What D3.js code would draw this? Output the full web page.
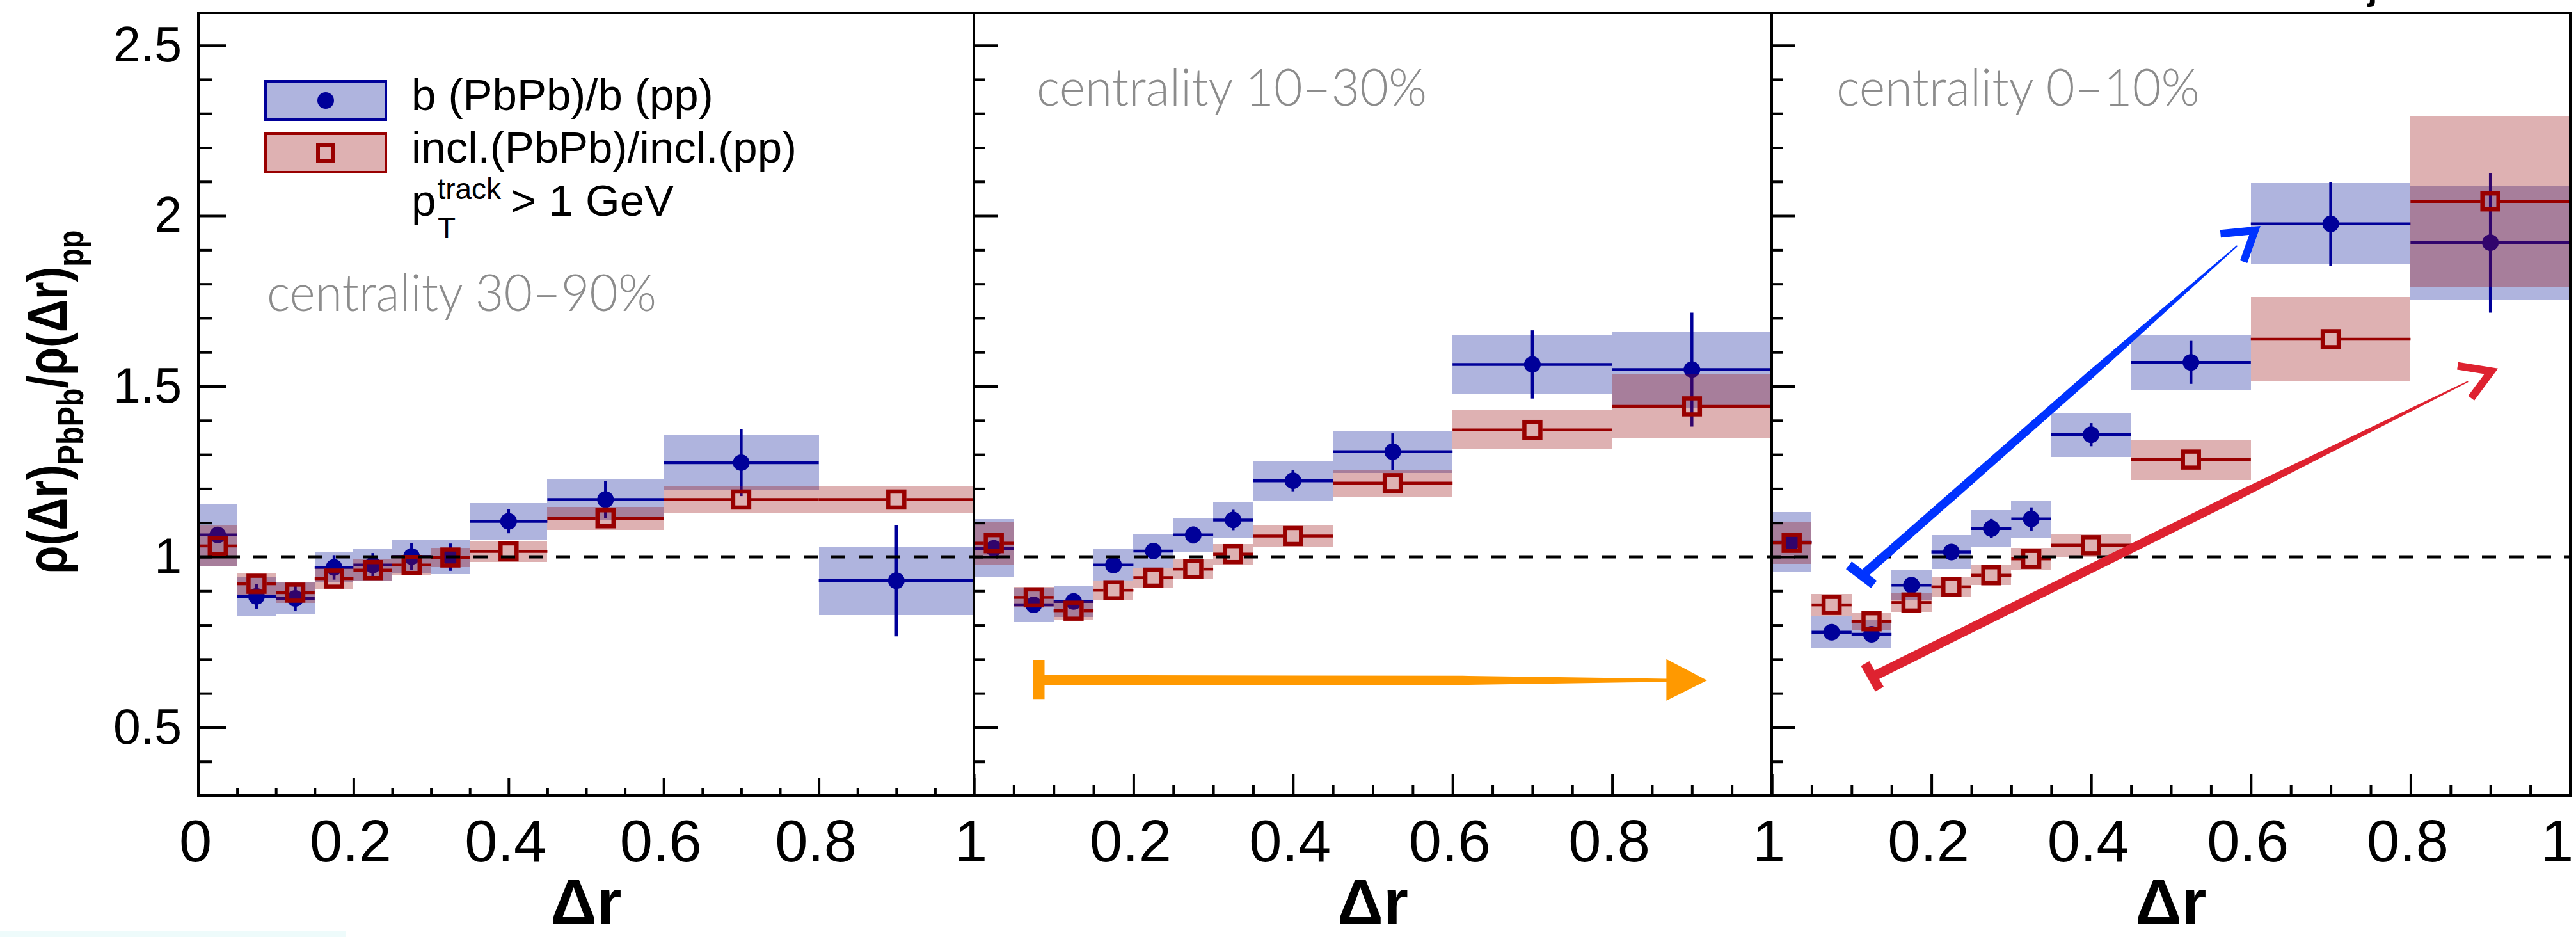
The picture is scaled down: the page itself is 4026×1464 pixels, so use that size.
<!DOCTYPE html>
<meta charset="utf-8">
<head>
<script src="https://d3js.org/d3.v7.min.js"></script>
<style>
  body { margin: 0; background: #ffffff; }
  svg text { font-family: "Liberation Sans", Arial, Helvetica, sans-serif; }
</style>
</head>
<body>
<svg id="chart" width="4026" height="1464"></svg>
<script>

// ---- data -------------------------------------------------------------
// delta-r bins, same for every centrality class
const binEdges = [0, 0.05, 0.1, 0.15, 0.2, 0.25, 0.3, 0.35, 0.45, 0.6, 0.8, 1.0];

const centralityLabels = ["centrality 30\u201390%", "centrality 10\u201330%", "centrality 0\u201310%"];

// b-jets  (PbPb)/(pp): value, stat. error, syst. error (half height of box)
const bVal30_90  = [1.064, 0.884, 0.878, 0.969, 0.976, 1.001, 0.999, 1.104, 1.168, 1.276, 0.930];
const bStat30_90 = [0.020, 0.036, 0.037, 0.036, 0.035, 0.040, 0.040, 0.035, 0.054, 0.098, 0.163];
const bSys30_90  = [0.090, 0.056, 0.046, 0.045, 0.047, 0.049, 0.049, 0.053, 0.060, 0.080, 0.100];

const bVal10_30  = [1.025, 0.859, 0.869, 0.976, 1.017, 1.064, 1.108, 1.223, 1.308, 1.564, 1.549];
const bStat10_30 = [0.015, 0.020, 0.020, 0.020, 0.020, 0.025, 0.030, 0.031, 0.054, 0.100, 0.167];
const bSys10_30  = [0.085, 0.050, 0.045, 0.048, 0.050, 0.050, 0.054, 0.058, 0.062, 0.085, 0.111];

const bVal0_10   = [1.043, 0.779, 0.773, 0.917, 1.014, 1.083, 1.111, 1.358, 1.570, 1.976, 1.921];
const bStat0_10  = [0.015, 0.015, 0.015, 0.015, 0.015, 0.028, 0.034, 0.034, 0.063, 0.122, 0.205];
const bSys0_10   = [0.088, 0.047, 0.042, 0.044, 0.050, 0.053, 0.055, 0.065, 0.080, 0.119, 0.167];

// inclusive jets (PbPb)/(pp)
const iVal30_90  = [1.032, 0.921, 0.895, 0.936, 0.961, 0.976, 0.998, 1.016, 1.113, 1.168, 1.168];
const iStat30_90 = [0.012, 0.012, 0.012, 0.012, 0.012, 0.012, 0.012, 0.012, 0.015, 0.020, 0.020];
const iSys30_90  = [0.060, 0.031, 0.030, 0.030, 0.032, 0.030, 0.028, 0.031, 0.034, 0.039, 0.041];

const iVal10_30  = [1.040, 0.881, 0.842, 0.902, 0.939, 0.964, 1.008, 1.061, 1.216, 1.372, 1.441];
const iStat10_30 = [0.012, 0.012, 0.012, 0.012, 0.012, 0.012, 0.012, 0.012, 0.015, 0.020, 0.020];
const iSys10_30  = [0.064, 0.030, 0.028, 0.029, 0.029, 0.028, 0.030, 0.032, 0.040, 0.057, 0.094];

const iVal0_10   = [1.041, 0.859, 0.811, 0.866, 0.912, 0.946, 0.994, 1.034, 1.285, 1.638, 2.042];
const iStat0_10  = [0.012, 0.012, 0.012, 0.012, 0.012, 0.012, 0.012, 0.012, 0.015, 0.020, 0.020];
const iSys0_10   = [0.062, 0.032, 0.026, 0.028, 0.028, 0.029, 0.032, 0.034, 0.059, 0.124, 0.250];

// axis ticks
const yMajorTicks = [0.5, 1, 1.5, 2, 2.5];
const yTickLabels = ["0.5", "1", "1.5", "2", "2.5"];
const xMajorTicks = [0, 0.2, 0.4, 0.6, 0.8, 1];
const xTickLabels = ["0", "0.2", "0.4", "0.6", "0.8", "1"];

// ---- layout -----------------------------------------------------------
const BLUE = "#000099", RED = "#990000";
const BLUE_BOX = "rgb(5,21,152)", RED_BOX = "rgb(152,11,15)", BOX_ALPHA = 0.32;

const svg = d3.select("#chart");
svg.append("rect").attr("width", 4026).attr("height", 1464).attr("fill", "#fff");

const yTop = 20, yBottom = 1243;
const y = d3.scaleLinear().domain([0.3, 2.595]).range([yBottom, yTop]);

const panels = [
  { x0: 310,  x1: 1522, tickY: [43, 22], tickX: [27, 12], label: centralityLabels[0],
    b: [bVal30_90, bStat30_90, bSys30_90], i: [iVal30_90, iStat30_90, iSys30_90] },
  { x0: 1522, x1: 2769, tickY: [37, 18], tickX: [34, 17], label: centralityLabels[1],
    b: [bVal10_30, bStat10_30, bSys10_30], i: [iVal10_30, iStat10_30, iSys10_30] },
  { x0: 2769, x1: 4017, tickY: [37, 18], tickX: [34, 17], label: centralityLabels[2],
    b: [bVal0_10, bStat0_10, bSys0_10], i: [iVal0_10, iStat0_10, iSys0_10] }
];
panels.forEach(p => p.x = d3.scaleLinear().domain([0, 1]).range([p.x0, p.x1]));

function rowsOf(series) {
  return binEdges.slice(0, -1).map((lo, k) => ({
    lo: lo, hi: binEdges[k + 1], c: (lo + binEdges[k + 1]) / 2,
    v: series[0][k], stat: series[1][k], sys: series[2][k]
  }));
}

const dataLayer = svg.append("g");

function drawBoxes(g, x, rows, color) {
  g.append("g").selectAll("rect").data(rows).join("rect")
    .attr("x", d => x(d.lo)).attr("width", d => x(d.hi) - x(d.lo))
    .attr("y", d => y(d.v + d.sys)).attr("height", d => y(d.v - d.sys) - y(d.v + d.sys))
    .attr("fill", color).attr("fill-opacity", BOX_ALPHA)
    .attr("shape-rendering", "crispEdges");
}

function drawBlue(g, x, rows) {
  drawBoxes(g, x, rows, BLUE_BOX);
  const s = g.append("g").attr("stroke", BLUE).attr("stroke-width", 4.5);
  s.selectAll(".h").data(rows).join("line").attr("class", "h")
    .attr("x1", d => x(d.lo)).attr("x2", d => x(d.hi))
    .attr("y1", d => y(d.v)).attr("y2", d => y(d.v));
  s.selectAll(".v").data(rows).join("line").attr("class", "v")
    .attr("x1", d => x(d.c)).attr("x2", d => x(d.c))
    .attr("y1", d => y(d.v + d.stat)).attr("y2", d => y(d.v - d.stat));
  g.append("g").selectAll("circle").data(rows).join("circle")
    .attr("cx", d => x(d.c)).attr("cy", d => y(d.v)).attr("r", 13).attr("fill", BLUE);
}

function drawRed(g, x, rows) {
  drawBoxes(g, x, rows, RED_BOX);
  const half = 15.5;
  const s = g.append("g").attr("stroke", RED).attr("stroke-width", 4.5);
  rows.forEach(d => {
    const cx = x(d.c), cy = y(d.v);
    s.append("line").attr("x1", x(d.lo)).attr("x2", cx - half).attr("y1", cy).attr("y2", cy);
    s.append("line").attr("x1", cx + half).attr("x2", x(d.hi)).attr("y1", cy).attr("y2", cy);
    if (cy - y(d.v + d.stat) > half) {
      s.append("line").attr("x1", cx).attr("x2", cx).attr("y1", y(d.v + d.stat)).attr("y2", cy - half);
      s.append("line").attr("x1", cx).attr("x2", cx).attr("y1", cy + half).attr("y2", y(d.v - d.stat));
    }
  });
  g.append("g").selectAll("rect").data(rows).join("rect")
    .attr("x", d => x(d.c) - 12.5).attr("y", d => y(d.v) - 12.5)
    .attr("width", 25).attr("height", 25)
    .attr("fill", "none").attr("stroke", RED).attr("stroke-width", 6.5);
}

panels.forEach(p => {
  const g = dataLayer.append("g");
  drawBlue(g, p.x, rowsOf(p.b));
  drawRed(g, p.x, rowsOf(p.i));
});

// dashed line at unity
svg.append("line")
  .attr("x1", panels[0].x0).attr("x2", panels[2].x1)
  .attr("y1", y(1)).attr("y2", y(1))
  .attr("stroke", "#000").attr("stroke-width", 5).attr("stroke-dasharray", "22,21");

// ---- hand drawn arrows (in data coordinates of the panel) --------------
function band(pts, widths) {
  // polygon around polyline pts with given widths at each point
  const left = [], right = [];
  pts.forEach((p, k) => {
    const a = pts[Math.max(0, k - 1)], b = pts[Math.min(pts.length - 1, k + 1)];
    const dx = b[0] - a[0], dy = b[1] - a[1], L = Math.hypot(dx, dy);
    const nx = -dy / L, ny = dx / L, w = widths[k] / 2;
    left.push([p[0] + nx * w, p[1] + ny * w]);
    right.push([p[0] - nx * w, p[1] - ny * w]);
  });
  return left.concat(right.reverse());
}
const arrowLayer = svg.append("g");

function drawArrow(p, a, color) {
  const P = d => [p.x(d[0]), y(d[1])];
  const t = P(a.tail), e = P(a.shaftEnd);
  const mid = [t[0] + (e[0] - t[0]) * 0.6, t[1] + (e[1] - t[1]) * 0.6];
  arrowLayer.append("polygon")
    .attr("points", band([t, mid, e], [a.width, a.width * 0.9, 2]).map(q => q.join(",")).join(" "))
    .attr("fill", color);
  arrowLayer.append("line")
    .attr("x1", P(a.tailBar[0])[0]).attr("y1", P(a.tailBar[0])[1])
    .attr("x2", P(a.tailBar[1])[0]).attr("y2", P(a.tailBar[1])[1])
    .attr("stroke", color).attr("stroke-width", 15);
  arrowLayer.append("path")
    .attr("d", d3.line()([P(a.barbs[0]), P(a.tip), P(a.barbs[1])]))
    .attr("fill", "none").attr("stroke", color).attr("stroke-width", 12)
    .attr("stroke-linejoin", "miter");
}

const blueArrow = { tail: [0.117, 0.953], shaftEnd: [0.583, 1.912], width: 14,
  tailBar: [[0.0966, 0.975], [0.128, 0.919]], tip: [0.605, 1.957], barbs: [[0.562, 1.947], [0.591, 1.865]] };
const redArrow = { tail: [0.128, 0.650], shaftEnd: [0.872, 1.514], width: 15,
  tailBar: [[0.117, 0.687], [0.135, 0.612]], tip: [0.901, 1.544], barbs: [[0.859, 1.560], [0.876, 1.465]] };
drawArrow(panels[2], blueArrow, "#0033ff");
drawArrow(panels[2], redArrow, "#de2230");

// orange double-ended arrow in the middle panel
(function () {
  const p = panels[1], col = "#ff9900";
  const ay = 0.638;
  arrowLayer.append("line")
    .attr("x1", p.x(0.0814)).attr("x2", p.x(0.0814)).attr("y1", y(0.698)).attr("y2", y(0.583))
    .attr("stroke", col).attr("stroke-width", 18);
  const pts = [[p.x(0.082), y(ay)], [p.x(0.62), y(ay)], [p.x(0.87), y(ay)]];
  arrowLayer.append("polygon")
    .attr("points", band(pts, [16, 14, 5]).map(q => q.join(",")).join(" ")).attr("fill", col);
  arrowLayer.append("polygon")
    .attr("points", [[p.x(0.868), y(0.70)], [p.x(0.919), y(ay)], [p.x(0.868), y(0.578)]].map(q => q.join(",")).join(" "))
    .attr("fill", col);
})();

// ---- frames, ticks, labels ---------------------------------------------
const axes = svg.append("g");
const yMinorTicks = d3.range(4, 26).filter(k => k % 5 !== 0).map(k => k / 10);
const xMinorTicks = d3.range(1, 20).filter(k => k % 4 !== 0).map(k => k / 20);

panels.forEach((p, k) => {
  axes.append("g").attr("transform", `translate(${p.x0},0)`)
    .call(d3.axisRight(y).tickValues(yMajorTicks).tickSize(p.tickY[0]).tickFormat(""))
    .call(g => g.select(".domain").remove());
  axes.append("g").attr("transform", `translate(${p.x0},0)`)
    .call(d3.axisRight(y).tickValues(yMinorTicks).tickSize(p.tickY[1]).tickFormat(""))
    .call(g => g.select(".domain").remove());
  axes.append("g").attr("transform", `translate(0,${yBottom})`)
    .call(d3.axisTop(p.x).tickValues(xMajorTicks).tickSize(p.tickX[0]).tickFormat(""))
    .call(g => g.select(".domain").remove());
  axes.append("g").attr("transform", `translate(0,${yBottom})`)
    .call(d3.axisTop(p.x).tickValues(xMinorTicks).tickSize(p.tickX[1]).tickFormat(""))
    .call(g => g.select(".domain").remove());

  // x tick labels (the 0 of panels 2 and 3 is hidden under the 1 of the previous one)
  const from = k === 0 ? 0 : 1;
  const lab = axes.append("g").attr("transform", `translate(-5,${yBottom})`)
    .call(d3.axisBottom(p.x).tickValues(xMajorTicks.slice(from)).tickSize(0).tickPadding(38)
      .tickFormat((d, j) => xTickLabels[j + from]))
    .call(g => g.select(".domain").remove())
    .attr("font-family", "Liberation Sans, Arial, sans-serif").attr("font-size", 92);
  if (k === 2) lab.selectAll(".tick text").filter(d => d === 1).attr("dx", -16);

  axes.append("text")
    .attr("x", (p.x0 + p.x1) / 2).attr("y", 1444)
    .attr("text-anchor", "middle").attr("font-size", 100).attr("font-weight", "bold")
    .text("\u0394r");
});
axes.selectAll(".tick line").attr("stroke", "#000").attr("stroke-width", 4);

axes.append("g").attr("transform", `translate(${panels[0].x0},0)`)
  .call(d3.axisLeft(y).tickValues(yMajorTicks).tickSize(0).tickPadding(26)
    .tickFormat((d, j) => yTickLabels[j]))
  .call(g => g.select(".domain").remove())
  .attr("font-family", "Liberation Sans, Arial, sans-serif").attr("font-size", 77);

panels.forEach(p => {
  axes.append("rect").attr("x", p.x0).attr("y", yTop)
    .attr("width", p.x1 - p.x0).attr("height", yBottom - yTop)
    .attr("fill", "none").attr("stroke", "#000").attr("stroke-width", 4);
});

// y axis title
const yt = svg.append("text")
  .attr("transform", "translate(104,628) rotate(-90)")
  .attr("text-anchor", "middle").attr("font-size", 88).attr("font-weight", "bold")
  .attr("textLength", 537).attr("lengthAdjust", "spacingAndGlyphs");
yt.append("tspan").text("\u03c1(\u0394r)");
yt.append("tspan").attr("dy", 26).attr("font-size", 58).text("PbPb");
yt.append("tspan").attr("dy", -26).text("/\u03c1(\u0394r)");
yt.append("tspan").attr("dy", 26).attr("font-size", 58).text("pp");

// centrality labels
const centPos = [[417, 486, 609], [1620, 165, 610], [2870, 165, 568]];
panels.forEach((p, k) => {
  svg.append("text")
    .attr("x", centPos[k][0]).attr("y", centPos[k][1])
    .attr("textLength", centPos[k][2]).attr("lengthAdjust", "spacingAndGlyphs")
    .style("font-family", "Lato, 'Open Sans', sans-serif").attr("font-weight", 300)
    .attr("font-size", 80).attr("fill", "#8c8c8c")
    .text(p.label);
});

// legend
const leg = svg.append("g");
leg.append("rect").attr("x", 415).attr("y", 127).attr("width", 188).attr("height", 60)
  .attr("fill", BLUE_BOX).attr("fill-opacity", BOX_ALPHA).attr("stroke", BLUE).attr("stroke-width", 4);
leg.append("circle").attr("cx", 509).attr("cy", 157).attr("r", 13).attr("fill", BLUE);
leg.append("rect").attr("x", 415).attr("y", 209).attr("width", 188).attr("height", 60)
  .attr("fill", RED_BOX).attr("fill-opacity", BOX_ALPHA).attr("stroke", RED).attr("stroke-width", 4);
leg.append("rect").attr("x", 497).attr("y", 227).attr("width", 24).attr("height", 24)
  .attr("fill", "none").attr("stroke", RED).attr("stroke-width", 6);
leg.append("text").attr("x", 643).attr("y", 172).attr("font-size", 69).text("b (PbPb)/b (pp)");
leg.append("text").attr("x", 643).attr("y", 254).attr("font-size", 69).text("incl.(PbPb)/incl.(pp)");
const pt = leg.append("text").attr("x", 643).attr("y", 337).attr("font-size", 69);
pt.append("tspan").text("p");
pt.append("tspan").attr("font-size", 46).attr("dx", 2).attr("dy", -26).text("track");
pt.append("tspan").attr("font-size", 46).attr("x", 684).attr("dy", 61).text("T");
pt.append("tspan").attr("x", 798).attr("dy", -35).text("> 1 GeV");

// fragment of text cut by the top edge and a faint strip at the bottom left
svg.append("text").attr("x", 3700).attr("y", -1).attr("font-size", 56).attr("font-weight", "bold").text("jet");
svg.append("rect").attr("x", 0).attr("y", 1455).attr("width", 540).attr("height", 9).attr("fill", "#eefbfb");

</script>
</body>
</html>
